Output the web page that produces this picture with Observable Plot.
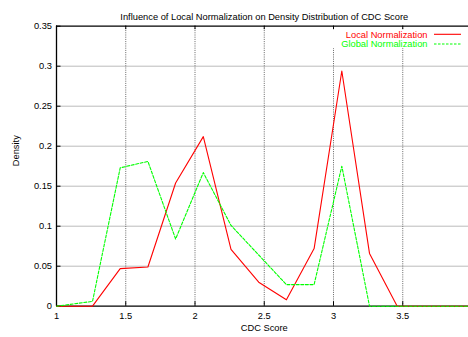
<!DOCTYPE html>
<html><head><meta charset="utf-8">
<script src="https://cdn.jsdelivr.net/npm/d3@7"></script>
<script src="https://cdn.jsdelivr.net/npm/@observablehq/plot@0.6"></script>
<style>
html,body{margin:0;padding:0;background:#fff;}
#chart{position:relative;width:468px;height:337px;overflow:hidden;}
</style></head><body><div id="chart"></div>
<script>
const title = "Influence of Local Normalization on Density Distribution of CDC Score";
const xLabel = "CDC Score";
const yLabel = "Density";
const seriesNames = ["Local Normalization", "Global Normalization"];
const seriesColors = ["#ff0000", "#00ff00"];
const cdcScore = [1, 1.26, 1.46, 1.66, 1.86, 2.06, 2.26, 2.46, 2.66, 2.86, 3.06, 3.26, 3.46, 3.66, 3.86, 4];
const localDensity = [0, 0, 0.047, 0.049, 0.154, 0.212, 0.071, 0.030, 0.008, 0.072, 0.294, 0.066, 0, 0, 0, 0];
const globalDensity = [0, 0.006, 0.173, 0.181, 0.084, 0.167, 0.101, 0.064, 0.027, 0.027, 0.175, 0, 0, 0, 0, 0];
const xTicks = [1, 1.5, 2, 2.5, 3, 3.5];
const yTicks = [0, 0.05, 0.1, 0.15, 0.2, 0.25, 0.3, 0.35];
const xGrid = [1.5, 2, 2.5, 3, 3.5];
const yGrid = [0.05, 0.1, 0.15, 0.2, 0.25, 0.3];

const W = 468, H = 337;
const mL = 56, mR = -3.5, mT = 25.7, mB = 31.3;
const innerW = W - mL - mR, innerH = H - mT - mB;
const font = "'Liberation Sans', Arial, Helvetica, sans-serif";
const fs = 9.3;

const localData = cdcScore.map((x, i) => ({x, y: localDensity[i]}));
const globalData = cdcScore.map((x, i) => ({x, y: globalDensity[i]}));

const svg = Plot.plot({
  width: W, height: H,
  marginLeft: mL, marginRight: mR, marginTop: mT, marginBottom: mB,
  style: {fontFamily: font, fontSize: fs + "px", background: "#fff", overflow: "hidden"},
  x: {domain: [1, 4], type: "linear"},
  y: {domain: [0, 0.35], type: "linear"},
  marks: [
    Plot.ruleY(yGrid, {y: d => d, stroke: "#bbb", strokeWidth: 1}),
    Plot.ruleX(xGrid, {x: d => d, stroke: "#666", strokeWidth: 1, strokeDasharray: "1,1.2"}),
    Plot.ruleY([0], {y: d => d, stroke: "#000", strokeWidth: 1.3}),
    Plot.ruleY([0.35], {y: d => d, stroke: "#000", strokeWidth: 1.3}),
    Plot.ruleX([1], {x: d => d, stroke: "#000", strokeWidth: 1.3}),
    Plot.tickX(xTicks, {x: d => d, insetTop: innerH - 4.5, stroke: "#000"}),
    Plot.tickX(xTicks, {x: d => d, insetBottom: innerH - 3.5, stroke: "#000"}),
    Plot.tickY(yTicks, {y: d => d, insetRight: innerW - 4.5, stroke: "#000"}),
    Plot.axisX(xTicks, {tickSize: 0, tickPadding: 6, label: null, tickFormat: d => String(d), fontSize: fs}),
    Plot.axisY(yTicks, {tickSize: 0, tickPadding: 4.5, label: null, tickFormat: d => String(d), fontSize: fs}),
    Plot.line(localData, {x: "x", y: "y", stroke: seriesColors[0], strokeWidth: 1.1}),
    Plot.line(globalData, {x: "x", y: "y", stroke: seriesColors[1], strokeWidth: 1.1, strokeDasharray: "3,1.6"}),
    Plot.text([title], {frameAnchor: "top", dy: -13, fontSize: fs}),
    Plot.text([xLabel], {frameAnchor: "bottom", dy: 24.4, fontSize: fs}),
    Plot.text([yLabel], {frameAnchor: "left", dx: -40, rotate: -90, fontSize: fs})
  ]
});

// Legend (gnuplot-style key, top right, with opaque background)
const g = d3.select(svg).append("g").attr("font-family", font).attr("font-size", fs);
g.append("rect").attr("x", 327).attr("y", 30).attr("width", 141).attr("height", 18).attr("fill", "#fff");
const legendRows = [{baseline: 37.5, lineY: 34.3}, {baseline: 46.7, lineY: 44}];
seriesNames.forEach((name, i) => {
  g.append("text").attr("x", 427.5).attr("y", legendRows[i].baseline)
    .attr("text-anchor", "end").attr("fill", seriesColors[i]).text(name);
  g.append("line").attr("x1", 434).attr("x2", 461)
    .attr("y1", legendRows[i].lineY).attr("y2", legendRows[i].lineY)
    .attr("stroke", seriesColors[i]).attr("stroke-width", 1.1)
    .attr("stroke-dasharray", i === 1 ? "2.5,1.5" : null);
});

document.getElementById("chart").appendChild(svg);
</script>
</body></html>
